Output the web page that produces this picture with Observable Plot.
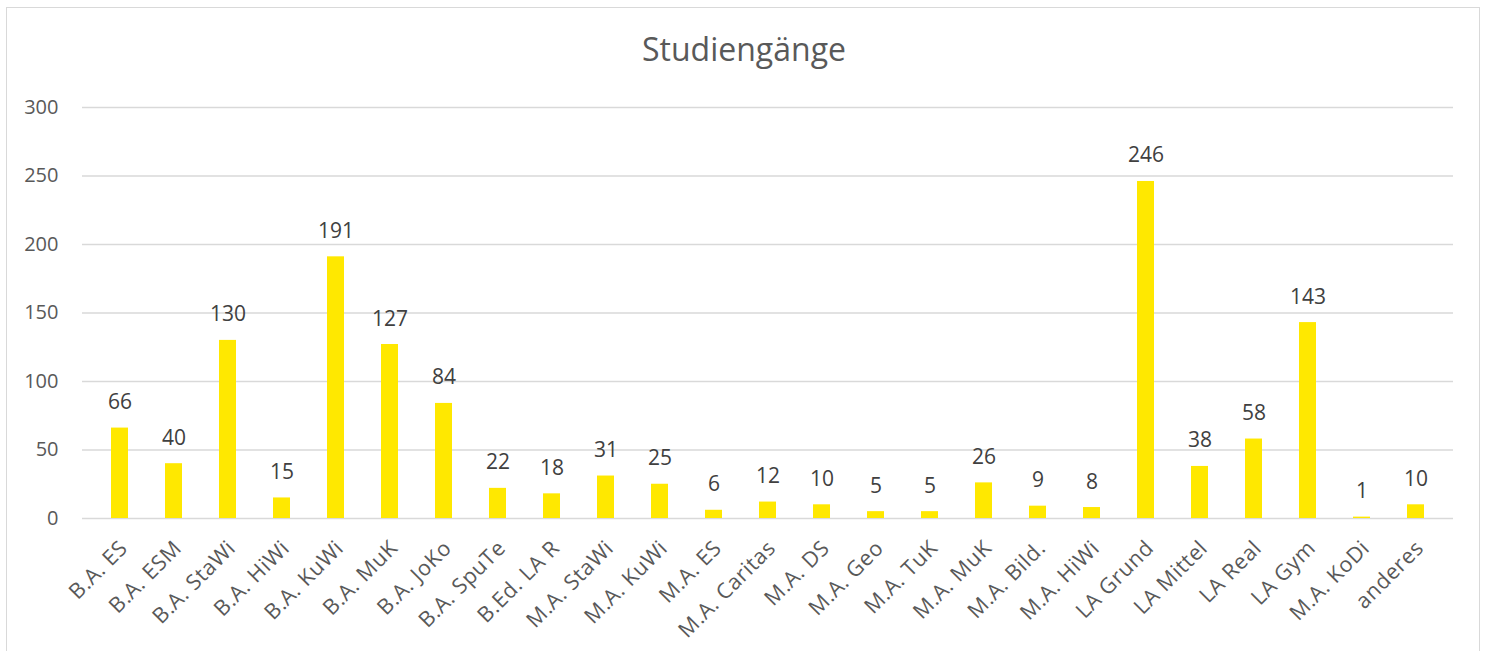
<!DOCTYPE html>
<html>
<head>
<meta charset="utf-8">
<script src="https://cdn.jsdelivr.net/npm/d3@7"></script>
<script src="https://cdn.jsdelivr.net/npm/@observablehq/plot@0.6"></script>
<style>
  html, body { margin: 0; padding: 0; background: #fff; width: 1488px; height: 651px; overflow: hidden; font-family: "Open Sans", sans-serif; }
  #frame { position: absolute; left: 6px; top: 7px; width: 1474px; height: 700px; border: 1px solid #d9d9d9; box-sizing: border-box; }
  #title { position: absolute; left: 0; top: 29px; width: 1488px; text-align: center; font-size: 32px; color: #595959; line-height: 40px; }
  #chart { position: absolute; left: 0; top: 80px; }
  #chart g[aria-label="x-axis tick label"] text { letter-spacing: 0.6px; }
</style>
</head>
<body>
<div id="frame"></div>
<div id="title">Studiengänge</div>
<div id="chart"></div>
<script>
const categories = ["B.A. ES","B.A. ESM","B.A. StaWi","B.A. HiWi","B.A. KuWi","B.A. MuK","B.A. JoKo","B.A. SpuTe","B.Ed. LA R","M.A. StaWi","M.A. KuWi","M.A. ES","M.A. Caritas","M.A. DS","M.A. Geo","M.A. TuK","M.A. MuK","M.A. Bild.","M.A. HiWi","LA Grund","LA Mittel","LA Real","LA Gym","M.A. KoDi","anderes"];
const values = [66,40,130,15,191,127,84,22,18,31,25,6,12,10,5,5,26,9,8,246,38,58,143,1,10];
const yTicks = [0,50,100,150,200,250,300];

const data = categories.map((c, i) => ({category: c, value: values[i]}));

const chart = Plot.plot({
  width: 1488,
  height: 571,
  marginLeft: 82,
  marginRight: 35,
  marginTop: 27,
  marginBottom: 133,
  style: {fontFamily: "'Open Sans', sans-serif", fontSize: "20px", color: "#595959", background: "transparent"},
  x: {domain: categories, paddingInner: 0.69, paddingOuter: 0.345, label: null},
  y: {domain: [0, 300], label: null},
  marks: [
    Plot.ruleY(yTicks, {stroke: "#d9d9d9", strokeWidth: 1.5}),
    Plot.barY(data, {x: "category", y: "value", fill: "#FFE800"}),
    Plot.text(data, {x: "category", y: "value", text: d => String(d.value), lineAnchor: "bottom", dy: -19, fill: "#404040", fontSize: 21}),
    Plot.axisY({ticks: yTicks, tickSize: 0, tickPadding: 24, label: null, fontSize: 20, fill: "#595959"}),
    Plot.axisX({tickSize: 0, tickPadding: 26, tickRotate: -45, label: null, fontSize: 21.5, fill: "#595959", dx: 4})
  ]
});
document.getElementById("chart").appendChild(chart);
</script>
</body>
</html>
